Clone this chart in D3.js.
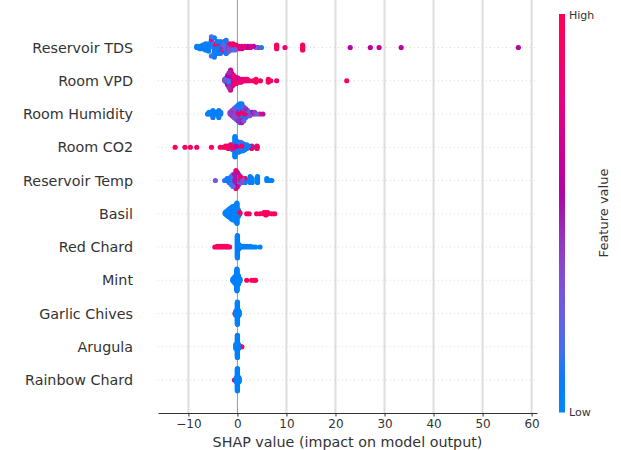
<!DOCTYPE html>
<html>
<head>
<meta charset="utf-8">
<script src="https://cdn.jsdelivr.net/npm/d3@7"></script>
<style>
  body { margin: 0; background: #fff; }
  svg { display: block; }
  text { font-family: "DejaVu Sans", sans-serif; fill: #333333; }
</style>
</head>
<body>
<svg id="chart" width="621" height="450"></svg>
<script>
// Features, top (most important) to bottom
const features = ["Reservoir TDS", "Room VPD", "Room Humidity", "Room CO2", "Reservoir Temp",
  "Basil", "Red Chard", "Mint", "Garlic Chives", "Arugula", "Rainbow Chard"];

const xTicks = [-10, 0, 10, 20, 30, 40, 50, 60];

// Each entry: [SHAP value, normalised feature value (0 = low, 1 = high), number of samples]
const reservoirTDS = [
  [-8.3,0.05,2],[-7.7,0.1,3],[-7.1,0.05,4],[-6.5,0.1,5],[-5.9,0.05,7],[-5.3,0.15,8],[-4.7,0.1,9],
  [-4.1,0.05,9],[-3.5,0.1,9],[-2.9,0.2,7],[-2.3,0.1,6],[-1.7,0.3,4],[-1.1,0.15,3],[-0.5,0.25,2],
  [-6.4,0.95,1],[-5.3,0.9,1],[-4.6,0.95,2],[-3.9,0.9,2],[-3.3,0.95,2],[-2.7,0.9,3],[-2.1,0.95,3],
  [-1.5,0.85,3],[-0.9,0.95,3],[-0.3,0.8,3],[0.3,0.9,3],[0.9,0.7,3],[1.5,0.95,2],[2.1,0.6,2],
  [2.7,0.85,2],[3.3,0.6,1],[3.8,0.2,1],[4.2,0.95,1],[4.9,0.1,1],
  [8.0,0.95,4],[9.7,0.85,1],[13.3,0.95,5],[23.0,0.6,1],[27.1,0.6,1],[28.9,0.6,1],[33.4,0.6,1],[57.3,0.6,1]
];
const roomVPD = [
  [-2.6,0.35,2],[-2.3,0.25,4],[-2.0,0.6,8],[-1.7,0.45,12],[-1.4,0.75,13],[-1.1,0.55,10],[-0.8,0.85,8],
  [-0.5,0.65,6],[-0.2,0.9,5],[0.1,0.7,4],[0.4,0.95,3],[0.8,0.8,3],[1.2,0.9,2],[1.6,0.6,2],[2.0,0.95,2],
  [2.5,0.85,1],[3.2,0.95,1],[3.8,0.95,3],[4.7,0.9,1],[6.3,0.95,3],[6.8,0.95,1],[8.0,0.85,1],[22.3,0.9,1],
  [-1.8,0.15,3],[-1.3,0.2,3]
];
const roomHumidity = [
  [-6.1,0.05,1],[-5.8,0.05,2],[-5.4,0.05,2],[-5.0,0.1,5],[-4.6,0.05,2],[-4.2,0.05,2],[-3.8,0.05,5],[-3.4,0.1,2],
  [-1.5,0.4,2],[-1.1,0.45,4],[-0.7,0.35,6],[-0.3,0.5,4],[-0.3,0.15,4],[0.1,0.1,6],[0.1,0.45,4],
  [0.5,0.05,8],[0.5,0.4,4],[0.9,0.1,8],[0.9,0.5,4],[1.3,0.3,5],[1.3,0.1,4],[1.7,0.45,3],[1.7,0.1,3],
  [2.1,0.5,2],[2.1,0.15,2],[2.5,0.35,3],[0.3,0.9,1],[1.1,0.95,2],[1.5,0.85,1],[3.0,0.55,2],[3.5,0.4,2],
  [4.0,0.3,1],[4.6,0.9,1],[5.2,0.5,1]
];
const roomCO2 = [
  [-12.7,0.95,1],[-10.7,0.95,1],[-9.6,0.95,1],[-8.3,0.9,1],[-5.3,0.95,1],[-3.5,0.9,1],[-2.9,0.95,1],
  [-2.4,0.9,2],[-1.9,0.95,3],[-1.4,0.85,4],[-0.8,0.95,3],[0.1,0.9,2],[0.9,0.95,2],[2.9,0.95,3],[4.0,0.95,3],
  [-0.3,0.6,2],
  [-1.0,0.1,5],[-0.5,0.05,18],[-0.1,0.1,10],[0.3,0.05,9],[0.7,0.15,8],[1.1,0.05,7],[1.5,0.1,5],
  [1.9,0.05,4],[2.3,0.1,2],[3.3,0.05,1]
];
const reservoirTemp = [
  [-4.5,0.3,1],[-2.6,0.1,1],[-2.1,0.1,2],[-1.7,0.1,3],[-1.3,0.15,5],[-0.9,0.2,7],[-0.6,0.5,6],
  [-0.3,0.85,10],[0.0,0.7,8],[0.3,0.2,6],[0.6,0.9,4],[1.0,0.3,3],[1.5,0.95,2],[1.6,0.05,3],
  [2.6,0.05,4],[3.0,0.05,3],[4.1,0.05,4],[6.0,0.05,2],[6.6,0.05,1],[7.0,0.05,1]
];
const basil = [
  [-2.5,0.05,2],[-2.2,0.05,4],[-1.9,0.05,6],[-1.6,0.05,8],[-1.3,0.05,10],[-1.0,0.05,12],[-0.7,0.05,12],
  [-0.4,0.05,14],[-0.1,0.05,18],[0.2,0.05,6],[0.5,0.95,2],[1.9,0.95,1],[2.4,0.95,1],[3.9,0.95,1],
  [4.6,0.95,1],[5.4,0.95,2],[5.8,0.95,3],[6.2,0.95,2],[7.0,0.95,1],[7.6,0.95,1]
];
const redChard = [
  [-4.6,0.95,1],[-4.1,0.95,2],[-3.6,0.95,2],[-3.1,0.95,2],[-2.6,0.95,2],[-2.1,0.95,2],[-1.6,0.95,1],
  [0.0,0.05,40],[0.3,0.05,8],[0.9,0.05,2],[1.4,0.05,2],[2.0,0.05,2],[2.6,0.05,2],[3.2,0.05,1],
  [3.7,0.05,1],[4.6,0.05,1]
];
const mint = [
  [-0.9,0.05,4],[-0.5,0.05,10],[-0.1,0.05,30],[0.2,0.05,12],[0.5,0.05,4],[0.4,0.95,1],[1.9,0.95,1],
  [2.9,0.95,1],[3.4,0.95,1],[3.7,0.95,1]
];
const garlicChives = [[-0.3,0.05,8],[0.0,0.05,40],[0.3,0.05,8],[-0.5,0.95,1]];
const arugula = [[-0.3,0.05,8],[0.0,0.05,40],[0.2,0.05,8],[0.4,0.95,1],[0.7,0.95,1],[0.9,0.95,1]];
const rainbowChard = [[-0.2,0.05,8],[0.0,0.05,40],[0.3,0.05,8],[-0.6,0.95,1],[-0.4,0.95,1]];

const rows = [reservoirTDS, roomVPD, roomHumidity, roomCO2, reservoirTemp, basil,
  redChard, mint, garlicChives, arugula, rainbowChard];

const svg = d3.select("#chart");

const x = d3.scaleLinear().domain([-16.2, 61.1]).range([158, 537]);
const y = d3.scaleLinear().domain([-1, 11]).range([14.25, 413.25]);

// blue -> purple -> red, interpolated in LCh with a darker midpoint
function featureColor(t) {
  const h = 266.93 + t * 113.39;
  const c = 70 + 20 * t;
  const l = t < 0.5 ? 54 - 28 * t : 40 + 28 * (t - 0.5);
  return d3.hcl(h, c, l).formatHex();
}

// Vertical grid lines
svg.append("g").selectAll("line").data(xTicks).join("line")
  .attr("x1", d => x(d)).attr("x2", d => x(d))
  .attr("y1", 0).attr("y2", 413)
  .attr("stroke", d => d === 0 ? "#999999" : "#dddddd")
  .attr("stroke-width", d => d === 0 ? 1 : 2);

// Dotted row guides
svg.append("g").selectAll("line").data(features).join("line")
  .attr("x1", 158).attr("x2", 537)
  .attr("y1", (d, i) => y(i)).attr("y2", (d, i) => y(i))
  .attr("stroke", "#cccccc").attr("stroke-width", 0.7)
  .attr("stroke-dasharray", "1,3");

// Beeswarm layout: bin values, then stack samples in each bin alternately up and down
function swarm(groups) {
  const pts = [];
  groups.forEach(([v, f, n]) => { for (let k = 0; k < n; k++) pts.push({ v, f }); });
  const lo = d3.min(pts, p => p.v), hi = d3.max(pts, p => p.v);
  pts.forEach((p, i) => {
    p.q = Math.round(100 * (p.v - lo) / (hi - lo + 1e-8));
    p.k = (i * 0.6180339887) % 1;
  });
  const ordered = pts.slice().sort((a, b) => a.q - b.q || a.k - b.k);
  let layer = 0, last = -1;
  ordered.forEach(p => {
    if (p.q !== last) layer = 0;
    p.off = Math.ceil(layer / 2) * ((layer % 2) * 2 - 1);
    layer++;
    last = p.q;
  });
  const m = d3.max(pts, p => p.off + 1);
  pts.forEach(p => { p.off *= 0.9 * (0.4 / m); });
  return pts.sort((a, b) => a.k - b.k);
}

rows.forEach((groups, i) => {
  svg.append("g").selectAll("circle").data(swarm(groups)).join("circle")
    .attr("cx", p => x(p.v))
    .attr("cy", p => y(i - p.off))
    .attr("r", 2.6)
    .attr("fill", p => featureColor(p.f));
});

// Feature names
svg.append("g").selectAll("text").data(features).join("text")
  .attr("x", 133).attr("y", (d, i) => y(i))
  .attr("text-anchor", "end").attr("dominant-baseline", "central")
  .style("font-size", "14.3px")
  .text(d => d);

// X axis
const axis = svg.append("g").attr("transform", "translate(0,413)")
  .call(d3.axisBottom(x).tickValues(xTicks).tickSize(3.5).tickSizeOuter(0).tickPadding(3)
    .tickFormat(d => d < 0 ? "\u2212" + Math.abs(d) : String(d)));
axis.select(".domain").attr("stroke", "#333333");
axis.selectAll(".tick line").attr("stroke", "#333333");
axis.selectAll(".tick text").style("font-size", "12px").style("font-family", "DejaVu Sans").attr("fill", "#333333");

svg.append("text")
  .attr("x", x.range()[0] + (x.range()[1] - x.range()[0]) / 2).attr("y", 447)
  .attr("text-anchor", "middle").style("font-size", "14.3px")
  .text("SHAP value (impact on model output)");

// Colour bar
const defs = svg.append("defs");
const grad = defs.append("linearGradient").attr("id", "featGrad")
  .attr("x1", 0).attr("y1", 1).attr("x2", 0).attr("y2", 0);
d3.range(0, 1.0001, 0.05).forEach(t => {
  grad.append("stop").attr("offset", t).attr("stop-color", featureColor(t));
});
svg.append("rect").attr("x", 559).attr("y", 14).attr("width", 6).attr("height", 398.5)
  .attr("fill", "url(#featGrad)");
svg.append("text").attr("x", 569).attr("y", 15).attr("dominant-baseline", "central")
  .style("font-size", "11px").text("High");
svg.append("text").attr("x", 569).attr("y", 412).attr("dominant-baseline", "central")
  .style("font-size", "11px").text("Low");
svg.append("text").attr("transform", "translate(603,213) rotate(-90)")
  .attr("text-anchor", "middle").attr("dominant-baseline", "central")
  .style("font-size", "13px").text("Feature value");
</script>
</body>
</html>
